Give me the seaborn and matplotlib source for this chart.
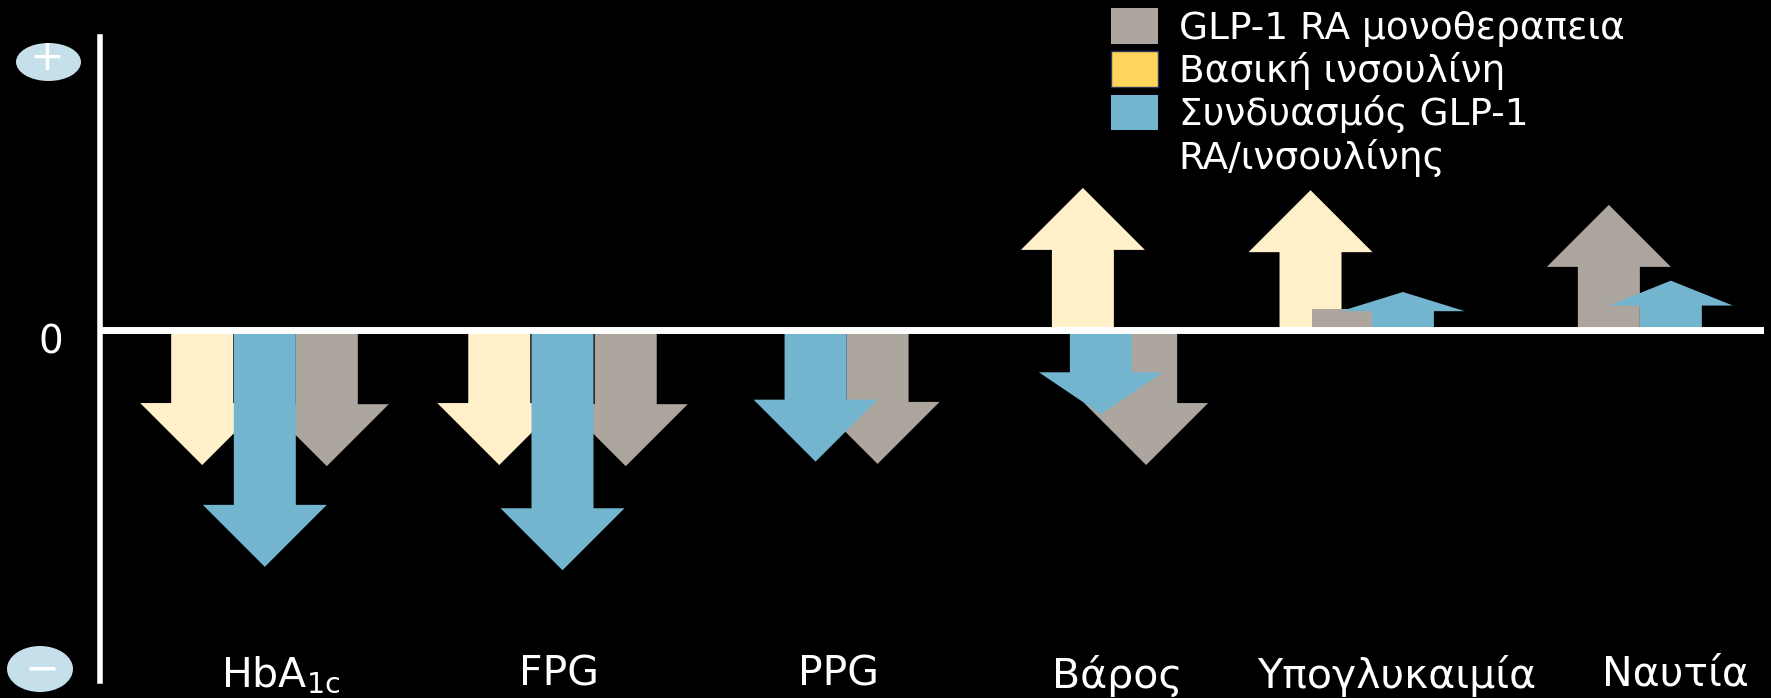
import numpy as np
import matplotlib
matplotlib.use("Agg")
import matplotlib.pyplot as plt
from matplotlib.patches import Polygon, Rectangle, Ellipse, Patch
import seaborn as sns

# ---- data -------------------------------------------------------------
categories = [r"HbA$_{\mathregular{1c}}$", "FPG", "PPG", "Βάρος", "Υπογλυκαιμία", "Ναυτία"]
series_names = ["GLP-1 RA μονοθεραπεια", "Βασική ινσουλίνη", "Συνδυασμός GLP-1\nRA/ινσουλίνης"]

# relative direction / size of the effect (0 line = no change)
glp1_mono = [-1.20, -1.20, -1.18, -1.19, 0.19, 1.11]
basal_insulin = [-1.19, -1.19, np.nan, 1.26, 1.24, np.nan]
combination = [-2.09, -2.12, -1.16, -0.74, 0.34, 0.44]

# minimal effect shown as a flat bar instead of an arrow
glp1_mono_has_head = [True, True, True, True, False, True]

# ---- style / layout -----------------------------------------------------
BG = "black"
sns.set_theme(style="white", rc={
    "figure.facecolor": BG, "axes.facecolor": BG, "savefig.facecolor": BG,
    "text.color": "white", "axes.labelcolor": "white",
    "xtick.color": "white", "ytick.color": "white",
})
plt.rcParams["font.family"] = ["DejaVu Sans"]

palette = {
    "glp1": "#ADA69F",
    "basal": "#FFF0C9",
    "combo": "#73B5CE",
}
legend_colors = ["#ADA69F", "#FFD55B", "#73B5CE"]

# horizontal placement of each arrow inside its group, in shaft widths
offsets = {
    "basal": [-1.26, -0.97, 0.0, -0.56, -1.39, 0.0],
    "glp1": [0.75, 1.07, 0.63, 0.46, -0.87, -1.08],
    "combo": [-0.25, 0.05, -0.37, -0.27, 0.10, -0.08],
}

W, H, DPI = 1771, 698, 100
fig = plt.figure(figsize=(W / DPI, H / DPI), dpi=DPI)

ax_l, ax_r, ax_t, ax_b = 100, 1764, 37, 681
ax = fig.add_axes([ax_l / W, 1 - ax_b / H, (ax_r - ax_l) / W, (ax_b - ax_t) / H])
ax.set_facecolor(BG)

xlim = (-0.646, 5.316)
ylim = (-3.099, 2.594)
ax.set_xlim(*xlim)
ax.set_ylim(*ylim)

# pixel scale of the data axes
sx = (ax_r - ax_l) / (xlim[1] - xlim[0])
sy = (ax_b - ax_t) / (ylim[1] - ylim[0])

HEAD_W_PX = 124.0
SHAFT_W_PX = 62.0
shaft_w = SHAFT_W_PX / sx
head_w = HEAD_W_PX / sx


def draw_arrow(xc, v, color, z, head=True):
    if v is None or np.isnan(v):
        return
    if not head:
        ax.add_patch(Rectangle((xc - shaft_w / 2, 0), shaft_w, v,
                               facecolor=color, edgecolor="none", zorder=z))
        return
    length_px = abs(v) * sy
    hl = 0.5 * min(HEAD_W_PX, length_px) / sy * np.sign(v)
    neck = v - hl
    pts = [
        (xc - shaft_w / 2, 0), (xc - shaft_w / 2, neck), (xc - head_w / 2, neck),
        (xc, v),
        (xc + head_w / 2, neck), (xc + shaft_w / 2, neck), (xc + shaft_w / 2, 0),
    ]
    ax.add_patch(Polygon(pts, closed=True, facecolor=color, edgecolor="none", zorder=z))


positions = np.arange(len(categories))
for i, xpos in enumerate(positions):
    draw_arrow(xpos + offsets["basal"][i] * shaft_w, basal_insulin[i], palette["basal"], 2)
    draw_arrow(xpos + offsets["glp1"][i] * shaft_w, glp1_mono[i], palette["glp1"], 3,
               head=glp1_mono_has_head[i])
    draw_arrow(xpos + offsets["combo"][i] * shaft_w, combination[i], palette["combo"], 4)

# axes: vertical line on the left and the zero baseline
sns.despine(ax=ax, left=False, bottom=True, top=True, right=True)
ax.spines["left"].set_color("white")
ax.spines["left"].set_linewidth(4.0)
ax.axhline(0, color="white", lw=5.0, zorder=6, solid_capstyle="butt")

ax.set_yticks([])
ax.set_xticks(positions)
ax.set_xticklabels(categories, fontsize=29.5, color="white")
ax.tick_params(axis="x", length=0, pad=-19)
for lab in ax.get_xticklabels():
    lab.set_verticalalignment("top")

# zero marker
fig.text(51 / W, 1 - 342 / H, "0", fontsize=28, color="white", ha="center", va="center")

# +/- badges
badge = "#C5E0EA"
fig.add_artist(Ellipse((48.5 / W, 1 - 62 / H), 65 / W, 38 / H, transform=fig.transFigure,
                       facecolor=badge, edgecolor="none"))
fig.add_artist(Ellipse((40 / W, 1 - 669 / H), 66 / W, 46 / H, transform=fig.transFigure,
                       facecolor=badge, edgecolor="none"))
fig.text(47 / W, 1 - 58 / H, "+", fontsize=30, color="white", ha="center", va="center")
fig.text(42 / W, 1 - 670 / H, "\u2212", fontsize=30, color="white", ha="center", va="center")

# legend
label_lines = []
handles = []
for name, col in zip(series_names, legend_colors):
    parts = name.split("\n")
    ec = "#2B3A55" if col == "#FFD55B" else "none"
    handles.append(Patch(facecolor=col, edgecolor=ec, linewidth=1))
    label_lines.append(parts[0])
    for extra in parts[1:]:
        handles.append(Patch(facecolor="none", edgecolor="none"))
        label_lines.append(extra)

leg = fig.legend(handles, label_lines, loc="upper left",
                 bbox_to_anchor=(1111 / W, 1 - 8 / H), frameon=False,
                 fontsize=27, handlelength=1.26, handleheight=1.08,
                 handletextpad=0.55, labelspacing=0.13, borderpad=0, borderaxespad=0)
for t in leg.get_texts():
    t.set_color("white")

fig.savefig("out.png", dpi=DPI, facecolor=BG)
